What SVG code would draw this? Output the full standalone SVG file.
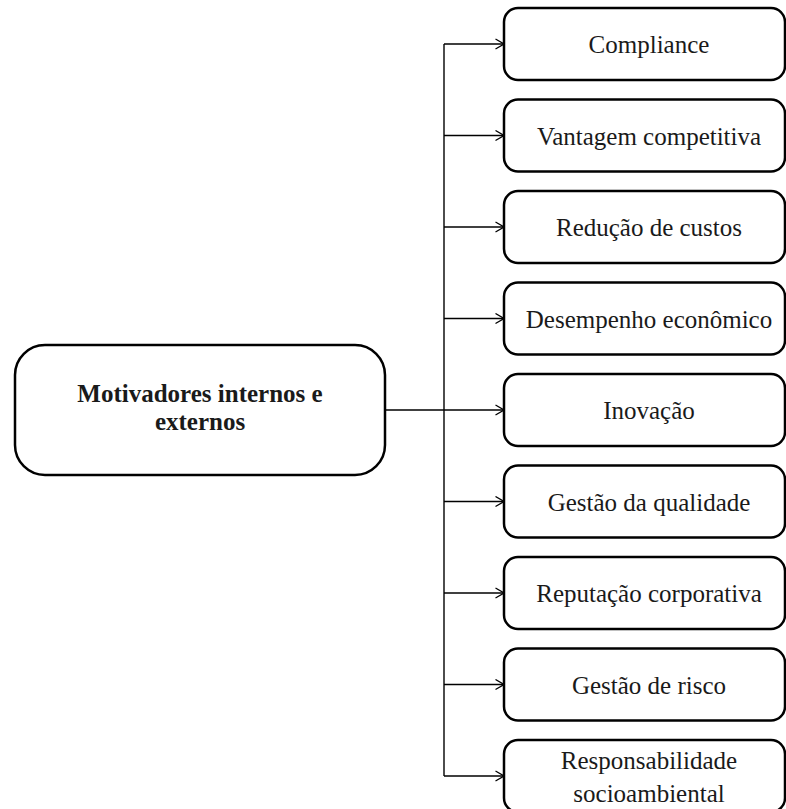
<svg xmlns="http://www.w3.org/2000/svg" width="786" height="809" viewBox="0 0 786 809">
  <style>
    .box { fill: #ffffff; stroke: #000000; stroke-width: 2.5; }
    .lbl { font-family: "Liberation Serif", "Times New Roman", serif; font-size: 25px; fill: #1a1a1a; text-anchor: middle; }
    .bold { font-weight: bold; }
    .wire { fill: none; stroke: #000000; stroke-width: 1.4; }
  </style>
  <defs>
    <marker id="chev" viewBox="0 0 10 12" refX="9.5" refY="6" markerWidth="10" markerHeight="12" markerUnits="userSpaceOnUse" orient="auto">
      <path d="M1,1 L9.5,6 L1,11" fill="none" stroke="#000000" stroke-width="1.3"/>
    </marker>
  </defs>

  <rect width="786" height="809" fill="#ffffff"/>

  <!-- connectors: trunk, source feed and branch arrows -->
  <g id="connectors">
    <path class="wire" d="M444,44 L444,776"/>
    <path class="wire" d="M385,410 L444,410"/>
    <path class="wire" d="M444,44 L504,44" marker-end="url(#chev)"/>
    <path class="wire" d="M444,135.5 L504,135.5" marker-end="url(#chev)"/>
    <path class="wire" d="M444,227 L504,227" marker-end="url(#chev)"/>
    <path class="wire" d="M444,318.5 L504,318.5" marker-end="url(#chev)"/>
    <path class="wire" d="M444,410 L504,410" marker-end="url(#chev)"/>
    <path class="wire" d="M444,501.5 L504,501.5" marker-end="url(#chev)"/>
    <path class="wire" d="M444,593 L504,593" marker-end="url(#chev)"/>
    <path class="wire" d="M444,684.5 L504,684.5" marker-end="url(#chev)"/>
    <path class="wire" d="M444,776 L504,776" marker-end="url(#chev)"/>
  </g>

  <g id="motivadores">
    <rect class="box" x="15" y="345" width="370" height="130" rx="30" ry="30"/>
    <text class="lbl bold" x="200" y="402">Motivadores internos e</text>
    <text class="lbl bold" x="200" y="430">externos</text>
  </g>

  <g id="compliance">
    <rect class="box" x="504" y="8" width="281" height="72" rx="14" ry="14"/>
    <text class="lbl" x="649" y="53">Compliance</text>
  </g>
  <g id="vantagem">
    <rect class="box" x="504" y="99.5" width="281" height="72" rx="14" ry="14"/>
    <text class="lbl" x="649" y="144.5">Vantagem competitiva</text>
  </g>
  <g id="reducao">
    <rect class="box" x="504" y="191" width="281" height="72" rx="14" ry="14"/>
    <text class="lbl" x="649" y="236">Redução de custos</text>
  </g>
  <g id="desempenho">
    <rect class="box" x="504" y="282.5" width="281" height="72" rx="14" ry="14"/>
    <text class="lbl" x="649" y="327.5">Desempenho econômico</text>
  </g>
  <g id="inovacao">
    <rect class="box" x="504" y="374" width="281" height="72" rx="14" ry="14"/>
    <text class="lbl" x="649" y="419">Inovação</text>
  </g>
  <g id="qualidade">
    <rect class="box" x="504" y="465.5" width="281" height="72" rx="14" ry="14"/>
    <text class="lbl" x="649" y="510.5">Gestão da qualidade</text>
  </g>
  <g id="reputacao">
    <rect class="box" x="504" y="557" width="281" height="72" rx="14" ry="14"/>
    <text class="lbl" x="649" y="602">Reputação corporativa</text>
  </g>
  <g id="risco">
    <rect class="box" x="504" y="648.5" width="281" height="72" rx="14" ry="14"/>
    <text class="lbl" x="649" y="693.5">Gestão de risco</text>
  </g>
  <g id="responsabilidade">
    <rect class="box" x="504" y="740" width="281" height="72" rx="14" ry="14"/>
    <text class="lbl" x="649" y="769">Responsabilidade</text>
    <text class="lbl" x="649" y="802">socioambiental</text>
  </g>
</svg>
